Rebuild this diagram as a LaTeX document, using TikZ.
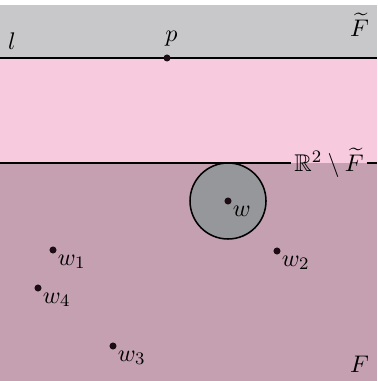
\documentclass[tikz,border=0pt]{standalone}
\usepackage{amssymb}
\usetikzlibrary{calc}

\definecolor{bandgrau}{RGB}{200,200,202}
\definecolor{bandrosa}{RGB}{248,202,222}
\definecolor{flaeche}{RGB}{196,160,176}
\definecolor{scheibe}{RGB}{150,151,154}
\definecolor{punkt}{RGB}{30,12,20}

\begin{document}
\begin{tikzpicture}[x=0.016cm, y=0.016cm, line width=0.7pt,
    every node/.style={font=\fontsize{11}{13}\selectfont}]

    \useasboundingbox (0,0) rectangle (377,381);

    % 1. Definition der Eckpunkte
    \coordinate (L0) at (0,323);
    \coordinate (L1) at (377,323);
    \coordinate (R0) at (0,218);
    \coordinate (R1) at (377,218);
    \coordinate (O) at (377,376);
    \coordinate (U) at (377,0);

    % 2. Flächen (Streifen und Halbebene)
    \fill[bandgrau] (L0) rectangle (O);
    \fill[bandrosa] (R0) rectangle (L1);
    \fill[flaeche] (0,0) rectangle (R1);

    % 3. Punkte
    \coordinate (P) at (167,323);
    \coordinate (W) at (228,180);
    \coordinate (W1) at (53,131);
    \coordinate (W2) at (277,130);
    \coordinate (W3) at (113,35);
    \coordinate (W4) at (38,93);

    % 4. Scheibe um w
    \draw[fill=scheibe] (W) circle (38);

    % 5. Geraden (untere mit Beschriftung unterbrochen)
    \draw (L0) -- (L1);
    \node[inner sep=1pt] (Rlabel) at (329,218) {$\mathbb{R}^2\setminus\widetilde{F}$};
    \draw (R0) -- (Rlabel.west);
    \draw (Rlabel.east) -- (R1);

    % 6. Punkte markieren
    \foreach \q in {P, W, W1, W2, W3, W4}
        \fill[punkt] (\q) circle (1.6pt);

    % 7. Beschriftung
    \node[above=1.5pt, xshift=2pt] (lp) at (P) {$p$};
    \node[above right=0pt] (ll) at (L0) {$l$};
    \node[below left=0pt] (lFt) at (O) {$\widetilde{F}$};
    \node[above left=0pt] (lF) at (U) {$F$};
    \node[below right=-1.5pt] (lw) at (W) {$w$};
    \node[below right=-1.5pt] (lw1) at (W1) {$w_1$};
    \node[below right=-1.5pt] (lw2) at (W2) {$w_2$};
    \node[below right=-1.5pt] (lw3) at (W3) {$w_3$};
    \node[below right=-1.5pt] (lw4) at (W4) {$w_4$};

\end{tikzpicture}
\end{document}
